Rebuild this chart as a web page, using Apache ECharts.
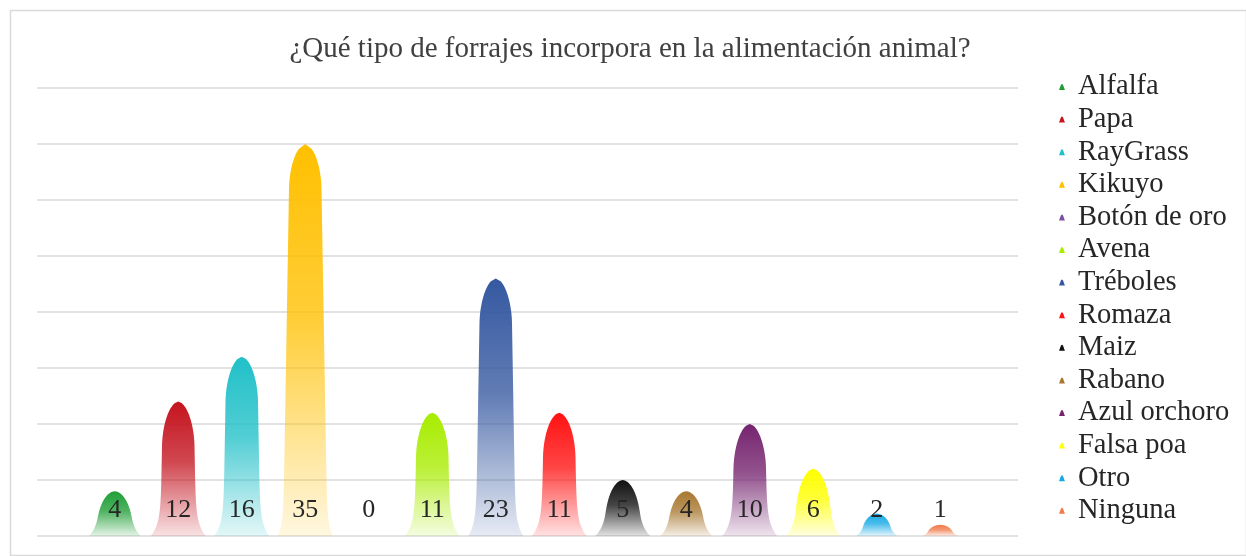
<!DOCTYPE html>
<html>
<head>
<meta charset="utf-8">
<script src="https://cdn.jsdelivr.net/npm/echarts@6/dist/echarts.min.js"></script>
<style>
html,body{margin:0;padding:0;background:#fff;}
#chart{width:1246px;height:556px;}
</style>
</head>
<body>
<div id="chart"></div>
<script>
const titleText = '¿Qué tipo de forrajes incorpora en la alimentación animal?';
const categories = ['Alfalfa','Papa','RayGrass','Kikuyo','Botón de oro','Avena','Tréboles','Romaza','Maiz','Rabano','Azul orchoro','Falsa poa','Otro','Ninguna'];
const values = [4,12,16,35,0,11,23,11,5,4,10,6,2,1];
const colors = ['#1f9e36','#c4141f','#21c0c8','#ffc000','#7a4ea0','#a8ec00','#3558a0','#ff1212','#111111','#a87830','#75246f','#ffff00','#16a9e6','#f07a4a'];
const yTicks = [0,5,10,15,20,25,30,35,40];

function hexA(hex, a){
  const r=parseInt(hex.slice(1,3),16),g=parseInt(hex.slice(3,5),16),b=parseInt(hex.slice(5,7),16);
  return 'rgba('+r+','+g+','+b+','+a+')';
}

// bell-shaped outline in pixel space (shape only; height comes from the axis scale)
function bellPoints(cx, y0, yt){
  const h = y0 - yt;
  const wBase = Math.min(27.5, 16 + h*0.22);
  const wBody = Math.min(15.5, wBase*0.58);
  const k = h > 60 ? 0.017 : 0;
  const domeH = Math.min(h*0.6, 45);
  const fl = Math.min(h*0.25, 12);
  const F = wBase - (wBody + k*h);
  const N = 80;
  const left = [], right = [];
  for (let i = 0; i <= N; i++) {
    const d = h * i / N;
    const t = d < domeH ? Math.pow(1 - Math.pow(1 - d/domeH, 2), 0.55) : 1;
    const w = (wBody + k*d) * t + F * Math.exp(-(h - d)/fl) * (d < domeH ? t : 1);
    const y = yt + d;
    left.push([cx - w, y]);
    right.push([cx + w, y]);
  }
  return left.concat(right.reverse());
}

const series = categories.map((name, i) => ({
  name: name,
  type: 'custom',
  xAxisIndex: 1,
  yAxisIndex: 1,
  itemStyle: { color: colors[i] },
  data: [[i, values[i]]],
  renderItem: function(params, api){
    const idx = api.value(0);
    const v = api.value(1);
    const base = api.coord([idx, 0]);
    const top = api.coord([idx, v]);
    const cx = base[0], y0 = base[1], yt = top[1];
    const col = colors[idx];
    const children = [];
    if (v > 0) {
      children.push({
        type: 'polygon',
        shape: { points: bellPoints(cx, y0, yt) },
        style: {
          fill: { type: 'linear', x: 0, y: 0, x2: 0, y2: 1, colorStops: [
            { offset: 0, color: col },
            { offset: 0.45, color: hexA(col, 0.78) },
            { offset: 1, color: hexA(col, 0.12) }
          ]}
        }
      });
    }
    children.push({
      type: 'text',
      style: {
        x: cx, y: y0 - 26, text: String(v),
        fill: '#262626', font: '26px "Liberation Serif", "Times New Roman", serif',
        align: 'center', verticalAlign: 'middle'
      },
      z2: 10
    });
    return { type: 'group', children: children };
  }
}));

const chart = echarts.init(document.getElementById('chart'));
chart.setOption({
  animation: false,
  backgroundColor: '#fff',
  title: {
    text: titleText,
    left: 625, top: 30, textAlign: 'center',
    textStyle: { fontFamily: '"Liberation Serif", "Times New Roman", serif', fontSize: 29, fontWeight: 'normal', color: '#404040' }
  },
  graphic: [{
    type: 'rect', left: 8, top: 8, shape: { width: 1236, height: 545 },
    style: { fill: 'none', stroke: '#d9d9d9', lineWidth: 1.5 }, silent: true, z: -1
  }],
  legend: {
    orient: 'vertical', left: 1059, top: 72, padding: 0, itemGap: 2.6,
    itemWidth: 6, itemHeight: 9,
    icon: 'path://M5,0 C7,0 8,6 10,10 L0,10 C2,6 3,0 5,0 Z',
    data: categories,
    textStyle: { fontFamily: '"Liberation Serif", "Times New Roman", serif', fontSize: 28.5, color: '#262626', lineHeight: 30, padding: [0, 0, 0, 8] }
  },
  grid: [
    { left: 37, right: 228, top: 88, bottom: 20 },
    { left: 83, right: 274, top: 88, bottom: 20 }
  ],
  xAxis: [
    { type: 'category', gridIndex: 0, data: categories, show: false },
    { type: 'category', gridIndex: 1, data: categories, show: false }
  ],
  yAxis: [
    { type: 'value', gridIndex: 0, min: yTicks[0], max: yTicks[yTicks.length-1], interval: 5,
      axisLine: { show: false }, axisTick: { show: false }, axisLabel: { show: false },
      splitLine: { lineStyle: { color: '#d9d9d9', width: 1.5 } } },
    { type: 'value', gridIndex: 1, min: yTicks[0], max: yTicks[yTicks.length-1], interval: 5, show: false, splitLine: { show: false } }
  ],
  series: series
});
</script>
</body>
</html>
